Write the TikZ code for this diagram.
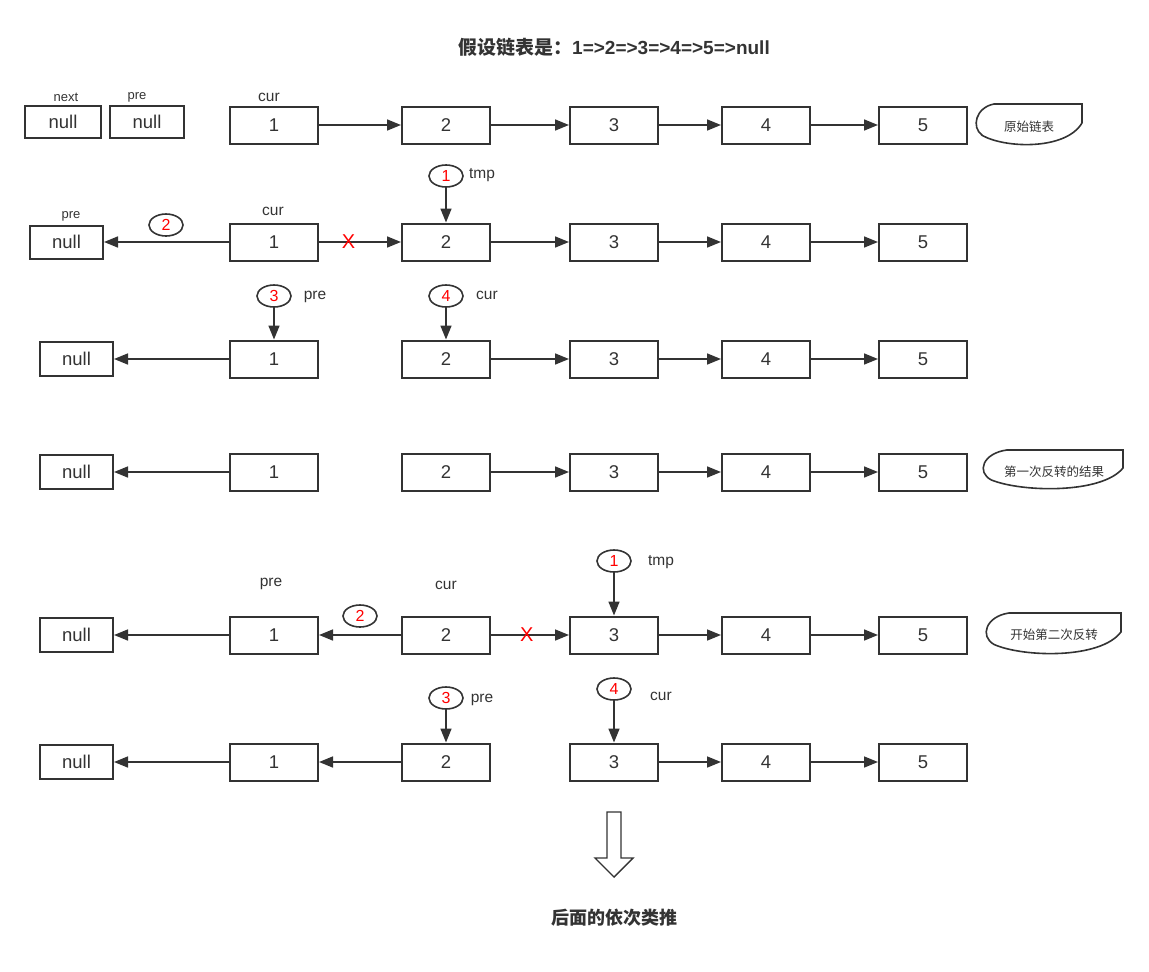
\documentclass[tikz,border=0pt]{standalone}
\usepackage{fontspec}
\setmainfont{Liberation Sans}
\newfontfamily\cjk{Noto Sans CJK SC}
\usetikzlibrary{arrows.meta,shapes.geometric}

\definecolor{linegray}{HTML}{333333}

\tikzset{
  every node/.style={text=linegray},
  nodebox/.style={draw=linegray, line width=2pt, minimum width=88pt, minimum height=37pt,
    inner sep=0pt, font=\fontsize{18.5}{20}\selectfont},
  nullbox/.style={nodebox, minimum width=73pt, minimum height=34pt},
  link/.style={draw=linegray, line width=1.6pt, -{Triangle[length=14pt,width=11pt]}},
  ptrlabel/.style={font=\fontsize{15.5}{17}\selectfont, inner sep=0pt},
  ptrsmall/.style={font=\fontsize{13}{15}\selectfont, inner sep=0pt},
  order/.style={ellipse, draw=linegray, line width=1.6pt, minimum width=34pt, minimum height=22pt,
    inner sep=0pt, text=red, font=\fontsize{16}{18}\selectfont},
  cut/.style={text=red, font=\fontsize{20}{22}\selectfont, inner sep=0pt},
  note/.style={draw=linegray, line width=1.6pt},
  notetext/.style={font=\cjk\fontsize{12.5}{14}\selectfont}
}

% callout outline: left, top, width, height
\newcommand{\notecloud}[4]{%
  \draw[note] (#1+0.17*#3,#2) -- (#1+#3,#2) -- (#1+#3,#2+0.45*#4)
    .. controls (#1+0.85*#3,#2+1.1*#4) and (#1+0.28*#3,#2+1.06*#4) .. (#1+0.06*#3,#2+0.75*#4)
    .. controls (#1-0.05*#3,#2+0.55*#4) and (#1+0.0*#3,#2+0.08*#4) .. (#1+0.17*#3,#2) -- cycle;}

\begin{document}
\begin{tikzpicture}[x=1pt, y=-1pt]
  \useasboundingbox (0,0) rectangle (1149,972);

  % Title
  \node[font=\bfseries\fontsize{19}{22}\selectfont] (title) at (614,47) {{\cjk 假设链表是：}1=>2=>3=>4=>5=>null};

  % Row 0: the original list
  \node[nullbox, minimum width=76pt, minimum height=32pt] (anext) at (63,122) {null};
  \node[nullbox, minimum width=74pt, minimum height=32pt] (apre) at (147,122) {null};
  \node[ptrsmall] (anextlbl) at (66,97) {next};
  \node[ptrsmall] (aprelbl) at (137,97) {pre};
  \node[ptrlabel] (acurlbl) at (269,97) {cur};
  \foreach \i/\x in {1/274,2/446,3/614,4/766,5/923}
    \node[nodebox] (a\i) at (\x,125) {\i};
  \foreach \i/\j in {1/2,2/3,3/4,4/5}
    \draw[link] (a\i) -- (a\j);
  \notecloud{976}{104}{106}{42}
  \node[notetext] (anote) at (1029,127) {原始链表};

  % Row 1: cut 1 -> 2, point 1 to pre
  \node[nullbox, minimum height=33pt] (bnull) at (66.5,242) {null};
  \node[ptrsmall] (bprelbl) at (71,216) {pre};
  \node[ptrlabel] (bcurlbl) at (273,211) {cur};
  \foreach \i/\x in {1/274,2/446,3/614,4/766,5/923}
    \node[nodebox] (b\i) at (\x,242) {\i};
  \draw[link] (b1) -- node[cut, pos=0.36] (bcut) {X} (b2);
  \foreach \i/\j in {2/3,3/4,4/5}
    \draw[link] (b\i) -- (b\j);
  \draw[link] (b1) -- (bnull);
  \node[order] (btwo) at (166,225) {2};
  \node[order] (bone) at (446,176) {1};
  \node[ptrlabel] (btmplbl) at (482,175) {tmp};
  \draw[link] (bone) -- (b2);

  % Row 2: move pre and cur
  \node[nullbox] (cnull) at (76.5,359) {null};
  \foreach \i/\x in {1/274,2/446,3/614,4/766,5/923}
    \node[nodebox] (c\i) at (\x,359) {\i};
  \draw[link] (c1) -- (cnull);
  \foreach \i/\j in {2/3,3/4,4/5}
    \draw[link] (c\i) -- (c\j);
  \node[order] (cthree) at (274,296) {3};
  \node[ptrlabel] (cprelbl) at (315,297) {pre};
  \node[order] (cfour) at (446,296) {4};
  \node[ptrlabel] (ccurlbl) at (487,295) {cur};
  \draw[link] (cthree) -- (c1);
  \draw[link] (cfour) -- (c2);

  % Row 3: after the first pass
  \node[nullbox] (dnull) at (76.5,472) {null};
  \foreach \i/\x in {1/274,2/446,3/614,4/766,5/923}
    \node[nodebox] (d\i) at (\x,472) {\i};
  \draw[link] (d1) -- (dnull);
  \foreach \i/\j in {2/3,3/4,4/5}
    \draw[link] (d\i) -- (d\j);
  \notecloud{983}{450}{140}{40}
  \node[notetext] (dnote) at (1054,472) {第一次反转的结果};

  % Row 4: second pass starts
  \node[nullbox] (enull) at (76.5,635) {null};
  \foreach \i/\x in {1/274,2/446,3/614,4/766,5/923}
    \node[nodebox] (e\i) at (\x,635) {\i};
  \draw[link] (e1) -- (enull);
  \draw[link] (e2) -- (e1);
  \draw[link] (e2) -- node[cut, pos=0.46] (ecut) {X} (e3);
  \foreach \i/\j in {3/4,4/5}
    \draw[link] (e\i) -- (e\j);
  \node[ptrlabel] (eprelbl) at (271,584) {pre};
  \node[ptrlabel] (ecurlbl) at (446,585) {cur};
  \node[order] (etwo) at (360,616) {2};
  \node[order] (eone) at (614,561) {1};
  \node[ptrlabel] (etmplbl) at (661,562) {tmp};
  \draw[link] (eone) -- (e3);
  \notecloud{986}{613}{135}{42}
  \node[notetext] (enote) at (1054,635) {开始第二次反转};

  % Row 5: move pre and cur again
  \node[nullbox] (fnull) at (76.5,762) {null};
  \foreach \i/\x in {1/274,2/446,3/614,4/766,5/923}
    \node[nodebox] (f\i) at (\x,762) {\i};
  \draw[link] (f1) -- (fnull);
  \draw[link] (f2) -- (f1);
  \foreach \i/\j in {3/4,4/5}
    \draw[link] (f\i) -- (f\j);
  \node[order] (fthree) at (446,698) {3};
  \node[ptrlabel] (fprelbl) at (482,700) {pre};
  \node[order] (ffour) at (614,689) {4};
  \node[ptrlabel] (fcurlbl) at (661,696) {cur};
  \draw[link] (fthree) -- (f2);
  \draw[link] (ffour) -- (f3);

  % Hollow arrow and closing text
  \draw[note, line width=1.4pt, line join=miter] (607,812) -- (621,812) -- (621,858) -- (633,858)
    -- (614,877) -- (595,858) -- (607,858) -- cycle;
  \node[font=\cjk\bfseries\fontsize{18}{20}\selectfont] (tail) at (614,918) {后面的依次类推};

\end{tikzpicture}
\end{document}
